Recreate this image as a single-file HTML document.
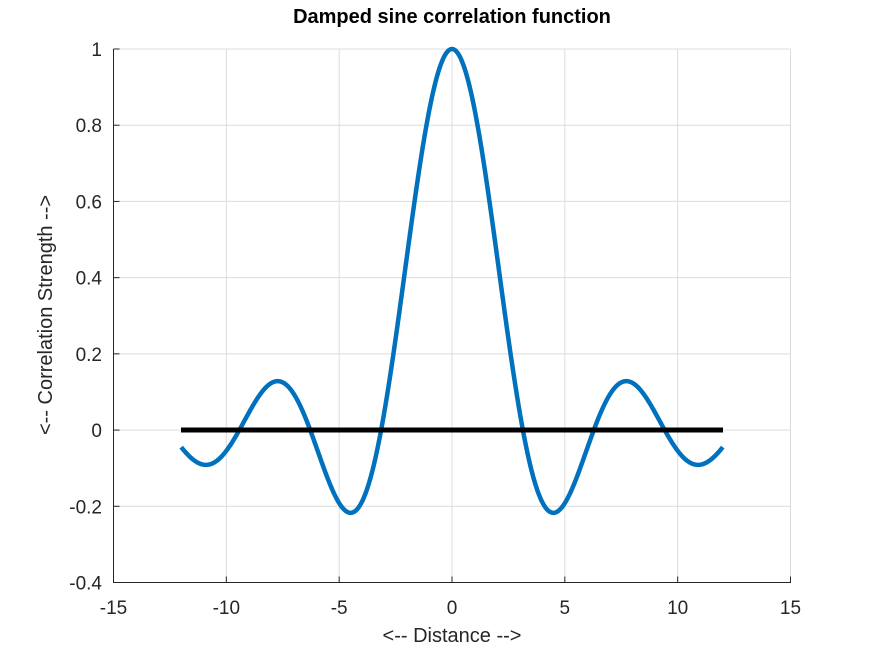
<!DOCTYPE html>
<html><head><meta charset="utf-8"><style>
body{margin:0;background:#fff;}
svg text{font-family:"Liberation Sans",sans-serif;fill:#262626;}
</style></head><body>
<svg id="s" width="873" height="655" xmlns="http://www.w3.org/2000/svg">
<rect width="873" height="655" fill="#fff"/>
<g id="grid" stroke="#dcdcdc" stroke-width="1"></g>
<g id="axes" stroke="#262626" stroke-width="1" fill="none">
<line x1="113.5" y1="49" x2="113.5" y2="583"/>
<line x1="113" y1="582.5" x2="791" y2="582.5"/>
</g>
<g id="ticks" stroke="#262626" stroke-width="1"></g>
<g id="labels" font-size="19"></g>
<path id="curve" fill="none" stroke="#0072bd" stroke-width="4.5" stroke-linejoin="round"/>
<line x1="181" y1="430" x2="723" y2="430" stroke="#000" stroke-width="5"/>
<text x="452" y="23" text-anchor="middle" font-size="20" font-weight="bold" style="fill:#000">Damped sine correlation function</text>
<text x="452" y="642" text-anchor="middle" font-size="20">&lt;-- Distance --&gt;</text>
<text transform="translate(52,315) rotate(-90)" text-anchor="middle" font-size="20">&lt;-- Correlation Strength --&gt;</text>
</svg>
<script>
var X0=113.5,X1=790.5,Y0=582.5,Y1=49;
function px(x){return X0+(x+15)/30*(X1-X0);}
function py(y){return Y0-(y+0.4)/1.4*(Y0-Y1);}
var ns="http://www.w3.org/2000/svg";
function el(p,t,a,txt){var e=document.createElementNS(ns,t);for(var k in a)e.setAttribute(k,a[k]);if(txt!==undefined)e.textContent=txt;document.getElementById(p).appendChild(e);}
for(var x=-15;x<=15;x+=5){var X=px(x);
 if(x>-15)el("grid","line",{x1:X,y1:Y1,x2:X,y2:Y0});
 el("ticks","line",{x1:X,y1:Y0,x2:X,y2:Y0-6});
 el("labels","text",{x:X,y:614,"text-anchor":"middle"},String(x));}
for(var i=0;i<=7;i++){var y=-0.4+i*0.2;var Y=py(y);
 if(i>0)el("grid","line",{x1:X0,y1:Y,x2:X1,y2:Y});
 el("ticks","line",{x1:X0,y1:Y,x2:X0+6,y2:Y});
 var s=Math.abs(y)<1e-9?"0":(Math.round(y*10)/10).toString();
 el("labels","text",{x:102,y:Y+7,"text-anchor":"end"},s);}
var d="";for(var k=0;k<=600;k++){var x=-12+24*k/600;var v=Math.abs(x)<1e-9?1:Math.sin(x)/x;d+=(k?"L":"M")+px(x).toFixed(2)+","+py(v).toFixed(2);}
document.getElementById("curve").setAttribute("d",d);
</script>
</body></html>
